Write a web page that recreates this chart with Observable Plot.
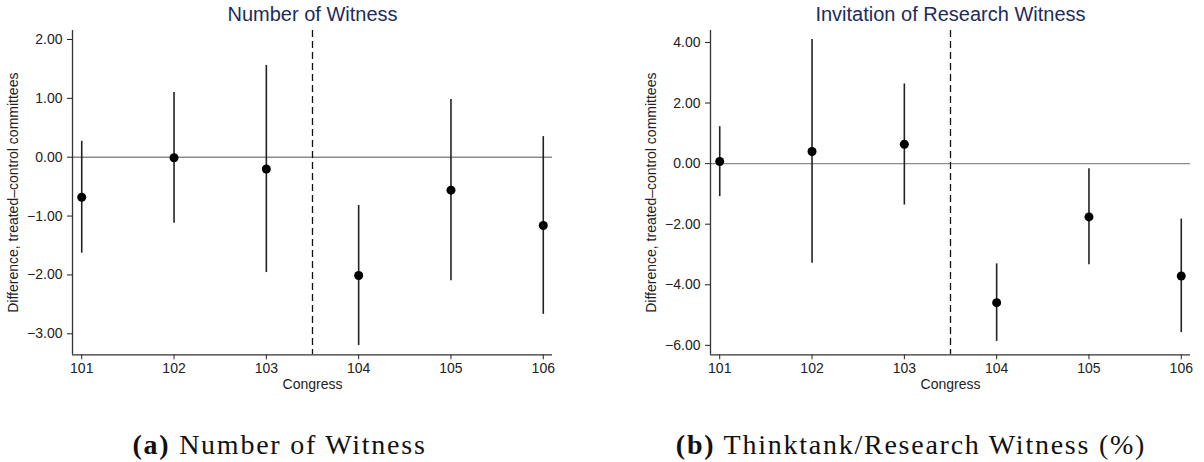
<!DOCTYPE html>
<html>
<head>
<meta charset="utf-8">
<script src="https://cdn.jsdelivr.net/npm/d3@7"></script>
<script src="https://cdn.jsdelivr.net/npm/@observablehq/plot@0.6"></script>
<style>
  html, body { margin: 0; padding: 0; background: #fff; }
  #page { position: relative; width: 1204px; height: 462px; overflow: hidden; background: #fff; }
  #left { position: absolute; left: 0; top: 0; }
  #right { position: absolute; left: 602px; top: 0; }
  svg { display: block; }
  .cap { position: absolute; text-align: center; font-family: "Liberation Serif", "DejaVu Serif", serif;
         font-size: 28px; line-height: 28px; color: #111; letter-spacing: 1.75px; white-space: nowrap; }
  .cap b { font-weight: bold; }
</style>
</head>
<body>
<div id="page">
  <div id="left"></div>
  <div id="right"></div>
  <div class="cap" style="left:0px; width:559px; top:431px;"><b>(a)</b> Number of Witness</div>
  <div class="cap" style="left:611px; width:600px; top:431px;"><b>(b)</b> Thinktank/Research Witness (%)</div>
</div>
<script>
// ---- data ----
const congress = [101, 102, 103, 104, 105, 106];

const witnessEst = [-0.68, -0.01, -0.20, -2.01, -0.56, -1.16];
const witnessLo  = [-1.63, -1.12, -1.96, -3.20, -2.10, -2.67];
const witnessHi  = [ 0.27,  1.10,  1.56, -0.82,  0.98,  0.35];

const researchEst = [ 0.07,  0.40,  0.64, -4.59, -1.76, -3.71];
const researchLo  = [-1.09, -3.29, -1.37, -5.87, -3.34, -5.58];
const researchHi  = [ 1.22,  4.10,  2.63, -3.31, -0.17, -1.83];

const witnessTicks = [-3, -2, -1, 0, 1, 2];
const researchTicks = [-6, -4, -2, 0, 2, 4];

const titles = ["Number of Witness", "Invitation of Research Witness"];
const xLabel = "Congress";
const yLabel = "Difference, treated\u2013control committees";
const treatmentBreak = 103.5;

// ---- chart builder ----
function panel({title, est, lo, hi, yDomain, yTicks, marginLeft, marginRight}) {
  const data = congress.map((c, i) => ({c, est: est[i], lo: lo[i], hi: hi[i]}));
  const xDomain = [100.9, 106.1];
  return Plot.plot({
    width: 602,
    height: 400,
    marginTop: 30,
    marginBottom: 45.7,
    marginLeft,
    marginRight,
    style: {fontFamily: "'Liberation Sans', Arial, sans-serif", fontSize: "14px", color: "#222", background: "white", overflow: "visible"},
    x: {domain: xDomain, ticks: congress, tickFormat: d => String(d), tickSize: 5, tickPadding: 3, label: null},
    y: {domain: yDomain, ticks: yTicks, tickFormat: d3.format(".2f"), tickSize: 5, tickPadding: 5, label: null},
    marks: [
      Plot.ruleY([0], {stroke: "#8c8c8c", strokeWidth: 1.4}),
      Plot.ruleX([treatmentBreak], {stroke: "#111", strokeWidth: 1.3, strokeDasharray: "7,4"}),
      Plot.ruleX(data, {x: "c", y1: "lo", y2: "hi", stroke: "#222", strokeWidth: 1.6}),
      Plot.dot(data, {x: "c", y: "est", r: 4.5, fill: "#000", stroke: "none"}),
      Plot.ruleX([xDomain[0]], {stroke: "#333", strokeWidth: 1.3}),
      Plot.ruleY([yDomain[0]], {stroke: "#333", strokeWidth: 1.3}),
      Plot.text([title], {frameAnchor: "top", dy: -16, lineAnchor: "middle", fontSize: 20, fill: "#1c2c5b"}),
      Plot.text([xLabel], {frameAnchor: "bottom", dy: 30, lineAnchor: "middle", fontSize: 14, fill: "#222"}),
      Plot.text([yLabel], {frameAnchor: "left", dx: -58.5, rotate: -90, textAnchor: "middle", lineAnchor: "middle", fontSize: 14, fill: "#222"})
    ]
  });
}

document.getElementById("left").appendChild(panel({
  title: titles[0], est: witnessEst, lo: witnessLo, hi: witnessHi,
  yDomain: [-3.357, 2.153], yTicks: witnessTicks, marginLeft: 72, marginRight: 50
}));
document.getElementById("right").appendChild(panel({
  title: titles[1], est: researchEst, lo: researchLo, hi: researchHi,
  yDomain: [-6.312, 4.395], yTicks: researchTicks, marginLeft: 108, marginRight: 14
}));
</script>
</body>
</html>
